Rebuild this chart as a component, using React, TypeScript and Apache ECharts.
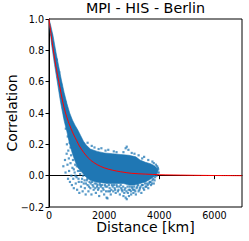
import React, { useEffect, useRef } from "react";
import * as echarts from "echarts";

const TITLE = "MPI - HIS - Berlin";
const X_NAME = "Distance [km]";
const Y_NAME = "Correlation";
const X_TICKS = [0, 2000, 4000, 6000];

// dense core of the scatter cloud: upper edge (left to right) and lower edge (right to left), [km, correlation]
const coreUpper: number[][] = [
  [0, 1.0], [60, 0.96], [150, 0.89], [250, 0.79], [350, 0.7], [450, 0.61], [550, 0.53], [650, 0.46],
  [750, 0.4], [850, 0.355], [950, 0.32], [1050, 0.29], [1150, 0.255], [1250, 0.22], [1350, 0.195],
  [1500, 0.17], [1750, 0.155], [2000, 0.145], [2300, 0.14], [2600, 0.135], [2900, 0.13], [3150, 0.12],
  [3300, 0.1], [3500, 0.085], [3700, 0.075], [3850, 0.06], [3950, 0.04],
];
const coreLower: number[][] = [
  [3950, 0.03], [3850, 0.0], [3700, -0.02], [3500, -0.04], [3300, -0.05], [3100, -0.06], [2900, -0.06],
  [2700, -0.05], [2500, -0.05], [2300, -0.05], [2100, -0.05], [1900, -0.045], [1700, -0.04], [1500, -0.03],
  [1350, -0.01], [1200, 0.02], [1050, 0.05], [950, 0.09], [850, 0.14], [750, 0.2], [650, 0.28],
  [550, 0.35], [450, 0.44], [400, 0.49], [300, 0.6], [200, 0.71], [100, 0.83], [30, 0.94], [0, 0.98],
];

// sparse points around the core, [km, correlation]
const fringePoints: number[][] = [
  [90, 0.9], [140, 0.84], [190, 0.8], [230, 0.73], [280, 0.74], [320, 0.63], [370, 0.66], [410, 0.54],
  [440, 0.58], [480, 0.46], [520, 0.51], [560, 0.38], [590, 0.47], [630, 0.33], [660, 0.41], [700, 0.29],
  [720, 0.38], [610, 0.3], [680, 0.25], [740, 0.24], [780, 0.18], [820, 0.2],
  [520, 0.06], [580, 0.1], [600, 0.02], [640, 0.14], [650, 0.2], [670, 0.07], [690, -0.02], [700, 0.16],
  [720, 0.11], [730, 0.03], [750, 0.21], [760, -0.04], [780, 0.08], [800, 0.13], [810, 0.0], [830, -0.06],
  [850, 0.05], [870, 0.1], [880, -0.02], [900, -0.08], [930, 0.02], [950, 0.07], [970, -0.05], [1000, -0.01],
  [1020, -0.09], [1050, 0.03], [1080, -0.04], [1100, -0.11], [1130, 0.01], [1160, -0.07], [1200, -0.02],
  [1220, -0.1], [1260, -0.05], [1300, -0.08], [1330, -0.12], [1370, -0.03], [1400, -0.06], [1430, -0.1],
  [1470, -0.04], [1500, -0.08], [1540, -0.12], [1580, -0.06], [1620, -0.09], [1660, -0.05],
  [1700, -0.11], [1740, -0.07], [1780, -0.09], [1820, -0.13], [1860, -0.06], [1900, -0.1], [1950, -0.08],
  [2000, -0.12], [2050, -0.07], [2090, -0.14], [2120, -0.145], [2150, -0.1], [2200, -0.08], [2240, -0.12],
  [2280, -0.06], [2330, -0.1], [2380, -0.08], [2420, -0.11], [2470, -0.07], [2520, -0.09], [2570, -0.12],
  [2620, -0.08], [2660, -0.1], [2700, -0.13], [2740, -0.09], [2780, -0.14], [2820, -0.15], [2860, -0.11],
  [2900, -0.13], [2940, -0.09], [2980, -0.12], [3020, -0.08], [3060, -0.11], [3100, -0.09], [3150, -0.12],
  [3200, -0.07], [3250, -0.1], [3300, -0.08], [3350, -0.11], [3400, -0.06], [3450, -0.09], [3500, -0.07],
  [3550, -0.05], [3600, -0.08], [3650, -0.04], [3700, -0.06], [3750, -0.03], [3800, -0.05], [3850, -0.01],
  [3900, 0.0], [3950, 0.05], [3980, 0.02],
  [1400, 0.21], [1550, 0.19], [1650, 0.18], [1800, 0.17], [1900, 0.175], [2050, 0.16], [2150, 0.165],
  [2350, 0.155], [2450, 0.15], [2700, 0.15], [2780, 0.175], [2820, 0.185], [2880, 0.165], [3000, 0.145],
  [3100, 0.14], [3250, 0.13], [3380, 0.11], [3450, 0.12], [3600, 0.1], [3750, 0.09], [3800, 0.08],
  [3880, 0.07], [3920, 0.06],
  [900, 0.04], [960, 0.0], [1010, 0.06], [1070, -0.02], [1120, 0.03], [1180, -0.04], [1240, 0.0],
  [1290, -0.03], [1340, -0.05], [1390, -0.02], [1450, -0.07], [1510, -0.05], [1560, -0.04], [1610, -0.07],
  [1680, -0.08], [1720, -0.05], [1760, -0.06], [1800, -0.08], [1840, -0.05], [1880, -0.07], [1930, -0.06],
  [1980, -0.09], [2030, -0.06], [2070, -0.1], [2110, -0.07], [2170, -0.06], [2210, -0.1], [2260, -0.09],
  [2310, -0.07], [2360, -0.06], [2400, -0.09], [2450, -0.06], [2500, -0.1], [2550, -0.07], [2600, -0.06],
  [2640, -0.09], [2690, -0.07], [2730, -0.11], [2770, -0.08], [2810, -0.1], [2850, -0.07], [2890, -0.09],
  [2930, -0.07], [2970, -0.1], [3010, -0.07], [3050, -0.09], [3090, -0.07], [3130, -0.1], [3180, -0.08],
  [3230, -0.06], [3280, -0.09], [3320, -0.07], [3370, -0.06], [3420, -0.08], [3480, -0.05], [3530, -0.07],
  [3580, -0.06], [3630, -0.05], [3680, -0.04], [3730, -0.05], [3780, -0.02], [3830, -0.03], [3880, 0.01],
  [3930, 0.02], [3960, 0.04],
];

// fitted curve, [km, correlation]
const fitCurve: number[][] = [
  [0, 1.0], [100, 0.87], [200, 0.75], [300, 0.65], [400, 0.56], [500, 0.47], [600, 0.4], [700, 0.345],
  [800, 0.3], [900, 0.26], [1000, 0.225], [1100, 0.19], [1250, 0.15], [1500, 0.1], [1750, 0.07],
  [2000, 0.05], [2300, 0.035], [2600, 0.025], [3000, 0.015], [3500, 0.01], [4000, 0.006], [5000, 0.003],
  [6000, 0.001], [7000, 0.0],
];

const FONT = "DejaVu Sans";

export default function App() {
  const ref = useRef<HTMLDivElement>(null);
  useEffect(() => {
    if (!ref.current) return;
    const chart = echarts.init(ref.current, undefined, { renderer: "svg" });
    const poly = coreUpper.concat(coreLower);
    chart.setOption({
      animation: false,
      backgroundColor: "#fff",
      grid: {
        left: 49, right: 7, top: 19, bottom: 34,
        outerBoundsMode: "none",
        containLabel: false,
        show: true, borderColor: "#000", borderWidth: 1, backgroundColor: "transparent",
      },
      xAxis: [
        {
          type: "value", min: 0, max: 7000, interval: 1000,
          name: X_NAME, nameLocation: "middle", nameGap: 13, nameMoveOverlap: false,
          nameTextStyle: { fontFamily: FONT, fontSize: 14, color: "#000" },
          axisLine: { show: true, lineStyle: { color: "#000", width: 1 } },
          axisTick: { show: true, length: 3.5, lineStyle: { color: "#000" }, customValues: X_TICKS },
          axisLabel: {
            fontFamily: FONT, fontSize: 9.6, color: "#000", margin: 3, customValues: X_TICKS,
            formatter: (v: number) => (X_TICKS.indexOf(v) >= 0 ? String(v) : ""),
          },
          splitLine: { show: false },
        },
        {
          // top axis only carries the chart title as its name
          type: "value", min: 0, max: 7000, position: "top",
          name: TITLE, nameLocation: "middle", nameGap: 4, nameMoveOverlap: false,
          nameTextStyle: { fontFamily: FONT, fontSize: 14.3, color: "#000" },
          axisLine: { show: false }, axisTick: { show: false }, axisLabel: { show: false },
          splitLine: { show: false },
        },
      ],
      yAxis: {
        type: "value", min: -0.2, max: 1.0, interval: 0.2,
        name: Y_NAME, nameLocation: "middle", nameGap: 30, nameMoveOverlap: false,
        nameTextStyle: { fontFamily: FONT, fontSize: 14, color: "#000" },
        axisLine: { show: true, lineStyle: { color: "#000", width: 1 } },
        axisTick: { show: true, length: 3.5, lineStyle: { color: "#000" } },
        axisLabel: {
          fontFamily: FONT, fontSize: 9.6, color: "#000", margin: 5,
          formatter: (v: number) => (v < -1e-9 ? "\u2212" : "") + Math.abs(v).toFixed(1),
        },
        splitLine: { show: false },
      },
      series: [
        {
          type: "custom",
          silent: true,
          clip: true,
          data: [[0, 0]],
          renderItem: (_params: any, api: any) => ({
            type: "polygon",
            shape: { points: poly.map((p) => api.coord(p)) },
            style: { fill: "#1f77b4", stroke: "#1f77b4", lineWidth: 0.6 },
          }),
          z: 1,
        },
        {
          type: "scatter",
          data: fringePoints,
          symbol: "rect",
          symbolSize: 2.2,
          itemStyle: { color: "#1f77b4", opacity: 0.75 },
          silent: true,
          z: 2,
        },
        {
          type: "line",
          data: fitCurve,
          showSymbol: false,
          smooth: 0.3,
          lineStyle: { color: "#ff0000", width: 1 },
          silent: true,
          z: 3,
        },
      ],
    });
    return () => chart.dispose();
  }, []);
  return <div ref={ref} style={{ position: "fixed", left: 0, top: 0, width: 249, height: 241 }} />;
}
